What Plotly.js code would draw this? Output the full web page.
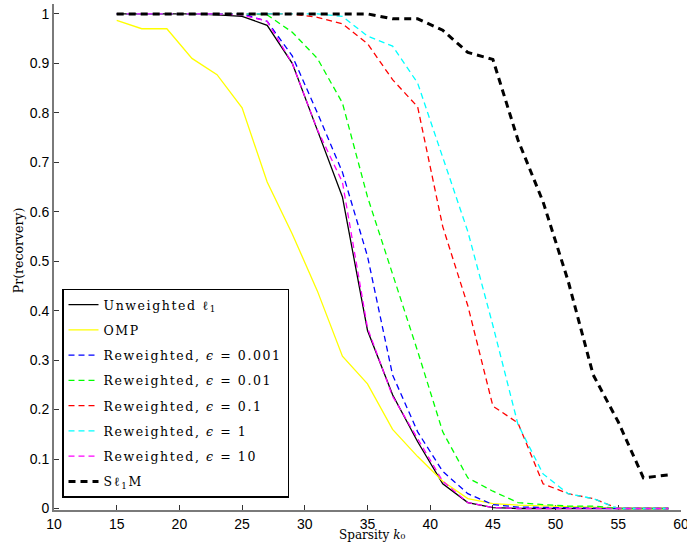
<!DOCTYPE html>
<html>
<head>
<meta charset="utf-8">
<script src="https://cdn.plot.ly/plotly-3.0.1.min.js"></script>
<style>
html,body{margin:0;padding:0;background:#fff;}
#chart{width:687px;height:543px;}
.legendtext{letter-spacing:1.6px;}
</style>
</head>
<body>
<div id="chart"></div>
<script>
// Sparsity levels
var sparsity = [15,17,19,21,23,25,27,29,31,33,35,37,39,41,43,45,47,49,51,53,55,57,59];

// Probability of recovery per method
var unweightedL1 = [1,1,1,1,0.998,0.995,0.977,0.90,0.765,0.63,0.36,0.23,0.135,0.05,0.012,0.002,0,0,0,0,0,0,0];
var omp          = [0.987,0.97,0.97,0.91,0.877,0.81,0.66,0.555,0.44,0.308,0.252,0.16,0.105,0.055,0.02,0.01,0.007,0.005,0.004,0.003,0,0,0];
var rwEps0001    = [1,1,1,1,1,1,0.985,0.915,0.80,0.68,0.51,0.27,0.155,0.075,0.03,0.008,0.003,0.002,0.001,0,0,0,0];
var rwEps001     = [1,1,1,1,1,1,0.998,0.963,0.91,0.82,0.63,0.475,0.318,0.155,0.062,0.035,0.012,0.008,0.005,0.005,0,0,0];
var rwEps01      = [1,1,1,1,1,1,1,1,0.993,0.98,0.94,0.867,0.812,0.57,0.41,0.207,0.173,0.05,0.03,0.02,0,0,0];
var rwEps1       = [1,1,1,1,1,1,1,1,1,0.995,0.955,0.935,0.86,0.71,0.56,0.37,0.17,0.07,0.03,0.02,0,0,0];
var rwEps10      = [1,1,1,1,1,0.998,0.985,0.90,0.766,0.66,0.365,0.227,0.14,0.055,0.012,0.002,0,0,0,0,0,0,0];
var sl1m         = [1,1,1,1,1,1,1,1,1,1,1,0.99,0.99,0.967,0.922,0.908,0.745,0.62,0.46,0.27,0.175,0.062,0.068];

var seriesNames = [
  "Unweighted ℓ<sub>1</sub>",
  "OMP",
  "Reweighted, <i>ϵ</i> = 0.001",
  "Reweighted, <i>ϵ</i> = 0.01",
  "Reweighted, <i>ϵ</i> = 0.1",
  "Reweighted, <i>ϵ</i> = 1",
  "Reweighted, <i>ϵ</i> = 10",
  "Sℓ<sub>1</sub>M"
];
var xTicks = [10,15,20,25,30,35,40,45,50,55,60];
var yTicks = [0,0.1,0.2,0.3,0.4,0.5,0.6,0.7,0.8,0.9,1];
var yTickText = ["0","0.1","0.2","0.3","0.4","0.5","0.6","0.7","0.8","0.9","1"];

var seriesValues = [unweightedL1, omp, rwEps0001, rwEps001, rwEps01, rwEps1, rwEps10, sl1m];
var styles = [
  {color:"#000000", width:1.3, dash:"solid"},
  {color:"#ffff00", width:1.3, dash:"solid"},
  {color:"#0000ff", width:1.3, dash:"6px,4px"},
  {color:"#00ff00", width:1.3, dash:"6px,4px"},
  {color:"#ff0000", width:1.3, dash:"6px,4px"},
  {color:"#00ffff", width:1.3, dash:"6px,4px"},
  {color:"#ff00ff", width:1.3, dash:"6px,4px"},
  {color:"#000000", width:3, dash:"7px,5px"}
];

var traces = seriesValues.map(function(v, i){
  return {
    x: sparsity, y: v, type: "scatter", mode: "lines",
    name: seriesNames[i], legendgroup: "g" + i,
    line: {color: styles[i].color, width: styles[i].width, dash: styles[i].dash}
  };
});

var W = 687, H = 543;
var plotL = 54, plotR = 681, plotT = 4.1, plotB = 510.5;

var layout = {
  width: W, height: H,
  margin: {l: plotL, r: W - plotR, t: plotT, b: H - plotB, pad: 0},
  paper_bgcolor: "#ffffff", plot_bgcolor: "#ffffff",
  showlegend: true,
  font: {family: "Liberation Sans, Arial, sans-serif", size: 13, color: "#000"},
  xaxis: {
    range: [10, 60], tickvals: xTicks, ticktext: xTicks.map(String),
    showgrid: false, zeroline: false, showline: true,
    linecolor: "#7a7a7a", linewidth: 2, ticks: "inside", ticklen: 5,
    tickcolor: "#333", tickwidth: 1, layer: "below traces",
    ticklabeloverflow: "allow",
    tickfont: {family: "Liberation Sans, Arial, sans-serif", size: 14, color: "#000"}
  },
  yaxis: {
    range: [-0.003, 1.02], tickvals: yTicks, ticktext: yTickText,
    showgrid: false, zeroline: false, showline: true,
    linecolor: "#7a7a7a", linewidth: 2, ticks: "inside", ticklen: 5,
    tickcolor: "#333", tickwidth: 1, layer: "below traces",
    tickfont: {family: "Liberation Sans, Arial, sans-serif", size: 14, color: "#000"}
  },
  legend: {
    x: (62 - plotL) / (plotR - plotL),
    y: (plotB - 498) / (plotB - plotT),
    xanchor: "left", yanchor: "bottom",
    bgcolor: "#ffffff", bordercolor: "#000000", borderwidth: 1.5,
    traceorder: "grouped", tracegroupgap: 6,
    font: {family: "DejaVu Serif, serif", size: 12.5, color: "#000"}
  },
  annotations: [
    {
      text: "Sparsity <i>k</i>₀", showarrow: false,
      xref: "paper", yref: "paper",
      x: (372 - plotL) / (plotR - plotL), y: (plotB - 535.5) / (plotB - plotT),
      xanchor: "center", yanchor: "middle",
      font: {family: "DejaVu Serif, serif", size: 12, color: "#000"}
    },
    {
      text: "Pr(recorvery)", showarrow: false, textangle: -90,
      xref: "paper", yref: "paper",
      x: (18.5 - plotL) / (plotR - plotL), y: (plotB - 251) / (plotB - plotT),
      xanchor: "center", yanchor: "middle",
      font: {family: "DejaVu Serif, serif", size: 12.5, color: "#000"}
    }
  ]
};

Plotly.newPlot("chart", traces, layout, {displayModeBar: false, staticPlot: true});
</script>
</body>
</html>
